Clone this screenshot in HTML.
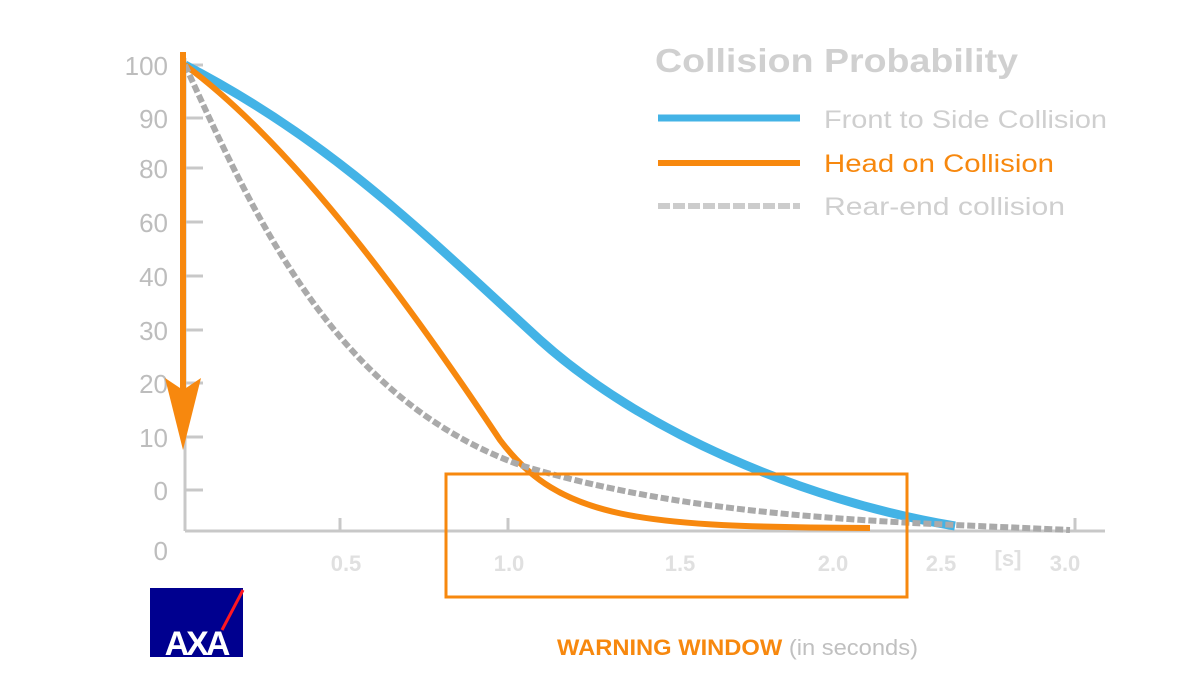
<!DOCTYPE html>
<html><head><meta charset="utf-8"><style>
body{margin:0;background:#fff;width:1200px;height:675px;overflow:hidden}
svg{display:block}
</style></head><body>
<svg width="1200" height="675" viewBox="0 0 1200 675" font-family="Liberation Sans, sans-serif">
<g stroke="#c8c8c8" stroke-width="3" fill="none">
<line x1="185" y1="58" x2="185" y2="531"/>
<line x1="185" y1="531" x2="1105" y2="531"/>
<path d="M185 65h18M185 118h18M185 168h18M185 222h18M185 276h18M185 330h18M185 383h18M185 437h18M185 490h18"/>
<path d="M340 531v-13M508 531v-13M1075 531v-13"/>
</g>
<g fill="#bdbdbd" font-size="26" text-anchor="end">
<text x="168" y="75">100</text><text x="168" y="128">90</text><text x="168" y="178">80</text>
<text x="168" y="232">60</text><text x="168" y="286">40</text><text x="168" y="340">30</text>
<text x="168" y="393">20</text><text x="168" y="447">10</text><text x="168" y="500">0</text>
<text x="168" y="560">0</text>
</g>
<g fill="#e0e0e0" font-size="22" text-anchor="middle" font-weight="bold">
<text x="346" y="571">0.5</text><text x="509" y="571">1.0</text><text x="680" y="571">1.5</text>
<text x="833" y="571">2.0</text><text x="941" y="571">2.5</text><text x="1008" y="566">[s]</text><text x="1065" y="571">3.0</text>
</g>
<g fill="none">
<path d="M185 65C330 140,420 230,540 340C640 430,800 500,955 526" stroke="#43b3e6" stroke-width="9"/>
<path d="M185 65C300 150,420 320,500 440C560 520,640 527,870 528" stroke="#f7880e" stroke-width="6"/>
<path d="M185 65C260 230,340 400,520 465C700 520,900 522,1070 530" stroke="#aaaaaa" stroke-width="6" stroke-dasharray="8 3"/>
</g>
<rect x="446" y="474" width="461" height="123" fill="none" stroke="#f7880e" stroke-width="3"/>
<line x1="183" y1="52" x2="183" y2="390" stroke="#f7880e" stroke-width="6"/>
<path d="M165 378L183 450L201 378L183 390Z" fill="#f7880e"/>
<text x="655" y="72" font-size="33" font-weight="bold" fill="#d0d0d0" textLength="363" lengthAdjust="spacingAndGlyphs">Collision Probability</text>
<line x1="658" y1="118" x2="800" y2="118" stroke="#43b3e6" stroke-width="7"/>
<line x1="658" y1="163" x2="800" y2="163" stroke="#f7880e" stroke-width="6"/>
<line x1="658" y1="206" x2="800" y2="206" stroke="#cccccc" stroke-width="6" stroke-dasharray="12 3"/>
<text x="824" y="128" font-size="25" fill="#cfcfcf" textLength="283" lengthAdjust="spacingAndGlyphs">Front to Side Collision</text>
<text x="824" y="172" font-size="25" fill="#f7880e" textLength="230" lengthAdjust="spacingAndGlyphs">Head on Collision</text>
<text x="824" y="215" font-size="25" fill="#cfcfcf" textLength="241" lengthAdjust="spacingAndGlyphs">Rear-end collision</text>
<rect x="150" y="588" width="93" height="69" fill="#00008f"/>
<line x1="222" y1="630" x2="243" y2="590" stroke="#ff1721" stroke-width="3"/>
<text x="196" y="655" font-size="34" font-weight="bold" fill="#fff" text-anchor="middle" letter-spacing="-3">AXA</text>
<text x="557" y="655" font-size="22" font-weight="bold" fill="#f7880e" textLength="361" lengthAdjust="spacingAndGlyphs">WARNING WINDOW <tspan fill="#c0c0c0" font-weight="normal">(in seconds)</tspan></text>
</svg>
</body></html>
